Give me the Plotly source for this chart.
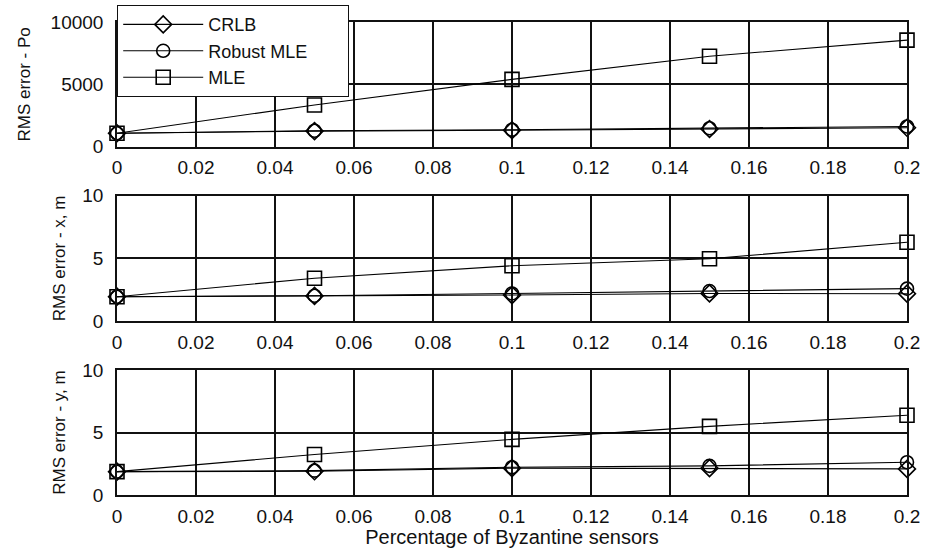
import plotly.graph_objects as go
from plotly.subplots import make_subplots

# ---- data ----
byz_frac = [0, 0.05, 0.1, 0.15, 0.2]

po_crlb = [1080, 1250, 1320, 1420, 1520]
po_robust = [1080, 1280, 1360, 1480, 1620]
po_mle = [1080, 3350, 5400, 7250, 8550]

x_crlb = [1.94, 2.0, 2.07, 2.2, 2.18]
x_robust = [1.94, 2.02, 2.2, 2.39, 2.58]
x_mle = [1.94, 3.41, 4.41, 4.97, 6.28]

y_crlb = [1.87, 1.9, 2.15, 2.15, 2.09]
y_robust = [1.87, 1.95, 2.22, 2.33, 2.62]
y_mle = [1.87, 3.24, 4.45, 5.49, 6.38]

series_names = ["CRLB", "Robust MLE", "MLE"]
series_symbols = ["diamond-open", "circle-open", "square-open"]

panel_titles = ["RMS error - Po", "RMS error - x, m", "RMS error - y, m"]
panel_data = [
    [po_crlb, po_robust, po_mle],
    [x_crlb, x_robust, x_mle],
    [y_crlb, y_robust, y_mle],
]
panel_ranges = [[0, 10000], [0, 10], [0, 10]]
panel_ticks = [[0, 5000, 10000], [0, 5, 10], [0, 5, 10]]
panel_ticktext = [["0", "5000", "10000"], ["0", "5", "10"], ["0", "5", "10"]]

x_ticks = [0, 0.02, 0.04, 0.06, 0.08, 0.1, 0.12, 0.14, 0.16, 0.18, 0.2]
x_ticktext = ["0", "0.02", "0.04", "0.06", "0.08", "0.1", "0.12", "0.14", "0.16", "0.18", "0.2"]
x_title = "Percentage of Byzantine sensors"

# ---- figure ----
W, H = 926, 548
ML, MR, MT, MB = 117, 19, 22, 53
ph = H - MT - MB
def dom(top_px, bot_px):
    return [(H - MB - bot_px) / ph, (H - MB - top_px) / ph]

domains = [dom(22, 146.7), dom(195.7, 321), dom(370, 495)]
title_standoffs = [16, 12, 12]

fig = make_subplots(rows=3, cols=1)
font_family = "Liberation Sans, Arial, sans-serif"
marker_sizes = [13, 13, 14]
legend_pad = "\u00a0" * 7  # widens the legend box like the reference

for r in range(3):
    for k in range(3):
        fig.add_trace(
            go.Scatter(
                x=byz_frac,
                y=panel_data[r][k],
                name=series_names[k] + (legend_pad if k == 1 else ""),
                mode="lines+markers",
                line=dict(color="black", width=1.1),
                marker=dict(symbol=series_symbols[k], size=marker_sizes[k],
                            color="black", line=dict(color="black", width=1.6)),
                showlegend=(r == 0),
                legendrank=k,
                cliponaxis=False,
            ),
            row=r + 1, col=1,
        )
    xa = "xaxis" if r == 0 else f"xaxis{r+1}"
    ya = "yaxis" if r == 0 else f"yaxis{r+1}"
    fig.layout[xa].update(
        range=[0, 0.2], tickvals=x_ticks, ticktext=x_ticktext, showgrid=True,
        gridcolor="#111", gridwidth=1.5, showline=True, mirror=True,
        linecolor="#111", linewidth=1.5,
        zeroline=False, ticks="", ticklabelstandoff=3,
        tickfont=dict(family=font_family, size=19, color="#111"),
        domain=[0, 1],
    )
    fig.layout[ya].update(
        range=panel_ranges[r], tickvals=panel_ticks[r], ticktext=panel_ticktext[r],
        showgrid=True, gridcolor="#111", gridwidth=1.5, showline=True, mirror=True,
        linecolor="#111", linewidth=1.5, zeroline=False, ticks="",
        ticklabelstandoff=8,
        tickfont=dict(family=font_family, size=19, color="#111"),
        title=dict(text=panel_titles[r], standoff=title_standoffs[r],
                   font=dict(family=font_family, size=17, color="#111")),
        domain=domains[r],
    )

fig.layout["xaxis3"].title = dict(text=x_title, standoff=5,
                                  font=dict(family=font_family, size=20, color="#111"))

fig.update_layout(
    width=W, height=H,
    margin=dict(l=ML, r=MR, t=MT, b=MB, autoexpand=False),
    paper_bgcolor="white", plot_bgcolor="white",
    showlegend=True,
    legend=dict(
        x=0, y=1 + 17 / ph, xanchor="left", yanchor="top",
        bgcolor="white", bordercolor="#111", borderwidth=1.2,
        font=dict(family=font_family, size=18, color="#111"),
        itemwidth=80, tracegroupgap=0,
    ),
)

fig.write_html("out.html")
